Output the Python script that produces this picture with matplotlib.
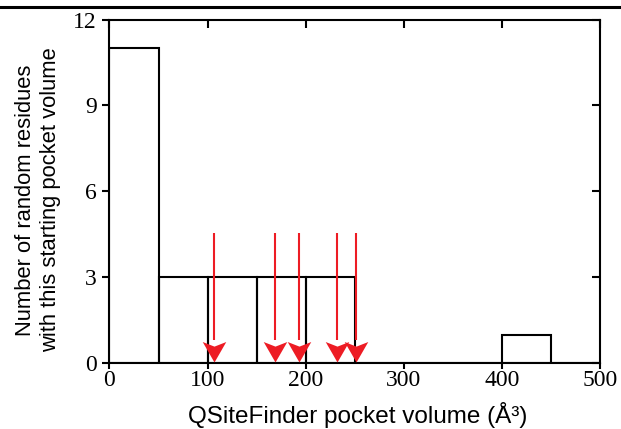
import matplotlib
matplotlib.use("Agg")
import matplotlib.pyplot as plt
from matplotlib.lines import Line2D, TICKLEFT, TICKDOWN
from matplotlib.path import Path

# Histogram of starting pocket volumes (bin edges in Å^3, counts per bin)
bin_edges = [0, 50, 100, 150, 200, 250, 300, 350, 400, 450, 500]
counts = [11, 3, 3, 3, 3, 0, 0, 0, 1, 0]

# Pocket volumes marked with red arrows
arrow_volumes = [107, 169, 193, 232, 251]
arrow_top = 4.55

x_ticks = [0, 100, 200, 300, 400, 500]
y_ticks = [0, 3, 6, 9, 12]

xlabel = "QSiteFinder pocket volume (Å³)"
ylabel = "Number of random residues\nwith this starting pocket volume"

RED = "#ed1c24"
SERIF = ["Liberation Serif", "DejaVu Serif"]
SANS = ["Liberation Sans", "DejaVu Sans"]

W, H = 621, 429
fig = plt.figure(figsize=(W / 100, H / 100), dpi=100)
ax = fig.add_axes([0.1763, 0.1531, 0.7899, 0.8014])

# Outline-only bars, one rectangle per bin
lefts = bin_edges[:-1]
widths = [b - a for a, b in zip(bin_edges[:-1], bin_edges[1:])]
ax.bar(lefts, counts, width=widths, align="edge", fill=False,
       edgecolor="black", linewidth=1.5, zorder=2)

# Notched arrowhead marker, origin at the tip
head = Path([(0, 0), (11.5, 20), (0, 15.5), (-11.5, 20), (0, 0)],
            [Path.MOVETO, Path.LINETO, Path.LINETO, Path.LINETO, Path.CLOSEPOLY])
tip_y = 0.06
for v in arrow_volumes:
    ax.vlines(v, 0.8, arrow_top, color=RED, linewidth=1.5, zorder=3)
    ax.plot([v], [tip_y], marker=head, markersize=29.5, color=RED,
            markeredgewidth=0, linestyle="none", zorder=4)

ax.set_xlim(0, 500)
ax.set_ylim(0, 12)
ax.set_xticks(x_ticks)
ax.set_yticks(y_ticks)

for s in ax.spines.values():
    s.set_linewidth(1.5)

ax.tick_params(axis="both", which="major", width=1.5, labelsize=17)
ax.tick_params(axis="y", left=True, right=True, direction="out", length=5, pad=4)
ax.tick_params(axis="x", bottom=True, top=True, direction="out", length=4, pad=1)
# top and right ticks point inward
for t in ax.yaxis.get_major_ticks():
    t.tick2line.set_marker(TICKLEFT)
    t.tick2line.set_markersize(6)
for t in ax.xaxis.get_major_ticks():
    t.tick2line.set_marker(TICKDOWN)
    t.tick2line.set_markersize(6)

for lab in ax.get_xticklabels() + ax.get_yticklabels():
    lab.set_family(SERIF)

fig.text(358 / W, 1 - 423 / H, xlabel, family=SANS, fontsize=17.5,
         ha="center", va="baseline")
fig.text(38 / W, 1 - 200 / H, ylabel, family=SANS, fontsize=15.8,
         rotation=90, ha="center", va="center", multialignment="center",
         linespacing=1.22)

# Horizontal rule across the top of the figure
fig.add_artist(Line2D([0, 1], [0.9844, 0.9844], transform=fig.transFigure,
                      color="black", linewidth=2.2))

fig.savefig("out.png", dpi=100)
